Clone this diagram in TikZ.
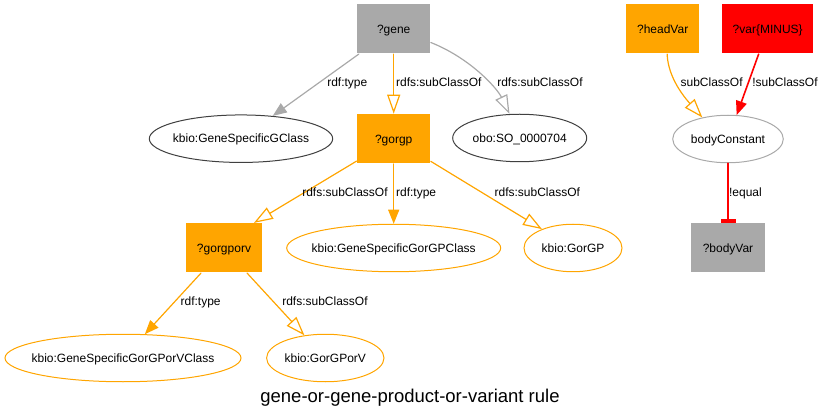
\documentclass[tikz,border=0pt]{standalone}
\usepackage{fontspec}
\setmainfont{Liberation Sans}
\usetikzlibrary{arrows.meta,shapes.geometric}
\definecolor{gvgray}{HTML}{A9A9A9}
\definecolor{gvorange}{HTML}{FFA500}
\definecolor{gvred}{HTML}{FF0000}
\definecolor{gvdark}{HTML}{404040}
\newcommand{\gvtext}[1]{\hbox to 0pt{\hss#1\hss}}

\begin{document}
\begin{tikzpicture}[x=1pt,y=-1pt,line width=1.2pt,line cap=round,
  var/.style={rectangle,inner sep=0pt,minimum height=49pt,minimum width=73pt,text height=8.6pt,text depth=0pt},
  cls/.style={ellipse,draw,line width=1pt,inner sep=0pt,minimum height=47.5pt,text height=8.6pt,text depth=0pt},
  lbl/.style={anchor=base west,inner sep=0pt},
  sub/.style={-{Triangle[open,length=19pt,width=13pt]}},
  typ/.style={-{Triangle[length=14pt,width=11pt]}},
  neq/.style={-{Rectangle[length=4pt,width=15pt]}}]
\fontsize{12}{14}\selectfont
\useasboundingbox (0,0) rectangle (821,419);

% variables
\node[var,fill=gvgray] (gene) at (393.7,29) {?gene};
\node[var,fill=gvorange] (gorgp) at (393.7,138.8) {?gorgp};
\node[var,fill=gvorange,minimum width=76pt] (gorgporv) at (224,248) {?gorgporv};
\node[var,fill=gvorange] (headvar) at (662.7,29) {?headVar};
\node[var,fill=gvred,minimum width=91pt] (minusvar) at (767.7,29) {?var\{MINUS\}};
\node[var,fill=gvgray,minimum width=74pt] (bodyvar) at (728,247.8) {?bodyVar};

% classes
\node[cls,draw=gvdark,minimum width=183.4pt] (gclass) at (241,138.7) {\gvtext{kbio:GeneSpecificGClass}};
\node[cls,draw=gvdark,minimum width=134pt] (obo) at (519.7,138) {\gvtext{obo:SO\_0000704}};
\node[cls,draw=gvorange,minimum width=214pt] (gpclass) at (393.7,248) {\gvtext{kbio:GeneSpecificGorGPClass}};
\node[cls,draw=gvorange,minimum width=98pt] (gorgpc) at (573,248) {\gvtext{kbio:GorGP}};
\node[cls,draw=gvorange,minimum width=236pt] (gpvclass) at (123,358) {\gvtext{kbio:GeneSpecificGorGPorVClass}};
\node[cls,draw=gvorange,minimum width=117.4pt] (gorgpvc) at (325.3,358) {\gvtext{kbio:GorGPorV}};
\node[cls,draw=gvgray,minimum width=110.6pt] (bodyc) at (728,139) {\gvtext{bodyConstant}};

% edges
\draw[gvgray,typ] (gene) -- (gclass);
\draw[gvorange,sub] (gene) -- (gorgp);
\draw[gvgray,sub] (gene.-20) .. controls (470,58) and (497,88) .. (obo.113);
\draw[gvorange,sub] (gorgp) -- (gorgporv.40);
\draw[gvorange,typ] (gorgp) -- (gpclass);
\draw[gvorange,sub] (gorgp) -- (gorgpc);
\draw[gvorange,typ] (gorgporv) -- (gpvclass);
\draw[gvorange,sub] (gorgporv) -- (gorgpvc);

%%%%%%%%%%%%%%%% RULE BODY %%%%%%%%%%%%%%%%%%%
\draw[gvorange,sub] (headvar.-80) .. controls (668,78) and (685,98) .. (bodyc.140);
\draw[gvred,typ,line width=1.6pt] (minusvar) -- (bodyc);
\draw[gvred,neq,line width=1.6pt] (bodyc) -- (bodyvar);

% edge labels
\node[lbl] (l1) at (326.7,86.5) {rdf:type};
\node[lbl] (l2) at (395.5,86.5) {rdfs:subClassOf};
\node[lbl] (l3) at (496.7,86.5) {rdfs:subClassOf};
\node[lbl] (l4) at (301.7,196.7) {rdfs:subClassOf};
\node[lbl] (l5) at (395.5,196.7) {rdf:type};
\node[lbl] (l6) at (494,196.7) {rdfs:subClassOf};
\node[lbl] (l7) at (180,305.7) {rdf:type};
\node[lbl] (l8) at (281.7,305.7) {rdfs:subClassOf};
\node[lbl] (l9) at (680,86.5) {subClassOf};
\node[lbl] (l10) at (751.7,86.5) {!subClassOf};
\node[lbl] (l11) at (728.5,196.7) {!equal};

\node[anchor=base,inner sep=0pt,font=\fontsize{18.5}{22}\selectfont] (title) at (410,402) {gene-or-gene-product-or-variant rule};
\end{tikzpicture}
\end{document}
